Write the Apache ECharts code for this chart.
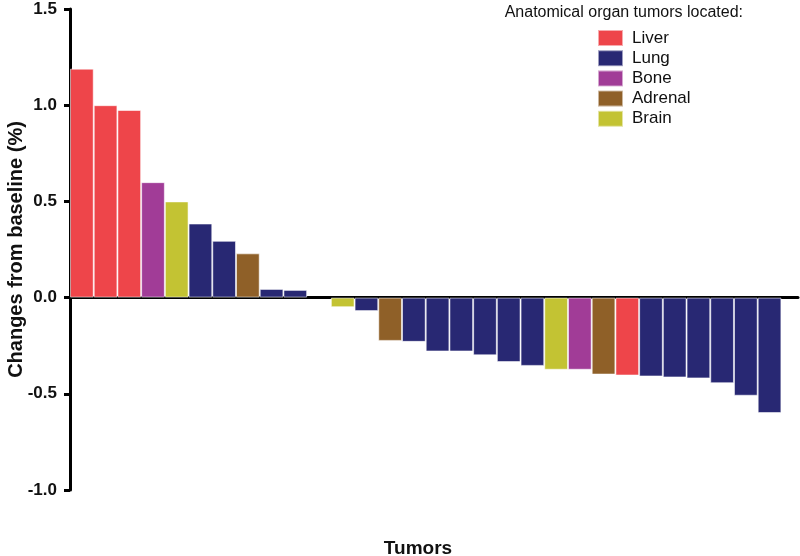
<!DOCTYPE html>
<html><head><meta charset="utf-8">
<script src="https://cdn.jsdelivr.net/npm/echarts@6/dist/echarts.min.js"></script>
<style>html,body{margin:0;padding:0;background:#fff}#c{width:800px;height:556px}</style>
</head><body><div id="c"></div>
<script>
const organNames = ['Liver','Lung','Bone','Adrenal','Brain'];
const organColors = ['#EE454A','#282873','#A13C97','#8F6028','#C3C333'];
const tumorOrgans = ['Liver','Liver','Liver','Bone','Brain','Lung','Lung','Adrenal','Lung','Lung',null,
  'Brain','Lung','Adrenal','Lung','Lung','Lung','Lung','Lung','Lung',
  'Brain','Bone','Adrenal','Liver','Lung','Lung','Lung','Lung','Lung','Lung'];
const changes = [1.19,1.0,0.975,0.60,0.50,0.385,0.295,0.23,0.045,0.04,null,
  -0.05,-0.07,-0.225,-0.23,-0.28,-0.28,-0.30,-0.335,-0.355,
  -0.375,-0.375,-0.40,-0.405,-0.41,-0.415,-0.42,-0.445,-0.51,-0.60];
const yTicks = [-1.0,-0.5,0.0,0.5,1.0,1.5];

const chart = echarts.init(document.getElementById('c'));
const series = organNames.map((name,k)=>({
  name, type:'bar', stack:'all', barWidth:23.7,
  itemStyle:{color:organColors[k], borderColor:'rgba(255,255,255,0.55)', borderWidth:1},
  data: changes.map((v,i)=> tumorOrgans[i]===name ? [i+0.5, v] : [i+0.5, null])
}));
chart.setOption({
  animation:false,
  backgroundColor:'#fff',
  title:[
    {text:'Anatomical organ tumors located:', right:52, top:0, textStyle:{fontFamily:'Liberation Sans', fontSize:16, fontWeight:'normal', color:'#111'}},
    {text:'Tumors', left:413, top:534, textAlign:'center', textStyle:{fontFamily:'Liberation Sans', fontSize:19, fontWeight:'bold', color:'#111'}}
  ],
  legend:{orient:'vertical', left:597, top:29, padding:0, icon:'rect', itemWidth:25, itemHeight:16, itemGap:2.2,
    data:organNames, selectedMode:false,
    textStyle:{fontFamily:'Liberation Sans', fontSize:17, color:'#111', padding:[0,0,0,4]}},
  grid:{left:70, right:2, top:9, bottom:66, outerBoundsMode:'none', containLabel:false},
  xAxis:{type:'value', min:0, max:30.7, axisLine:{onZero:true, lineStyle:{color:'#000', width:3}},
    axisTick:{show:false}, axisLabel:{show:false}, splitLine:{show:false}},
  yAxis:{type:'value', min:yTicks[0], max:yTicks[yTicks.length-1], interval:0.5,
    name:'Changes from baseline (%)', nameLocation:'middle', nameGap:44, nameRotate:90, nameMoveOverlap:false,
    nameTextStyle:{fontFamily:'Liberation Sans', fontSize:20, fontWeight:'bold', color:'#111'},
    axisLine:{show:true, lineStyle:{color:'#000', width:3}},
    axisTick:{show:true, length:6, lineStyle:{color:'#000', width:3}},
    axisLabel:{fontFamily:'Liberation Sans', fontSize:17, fontWeight:'bold', color:'#111', margin:13,
      formatter:v=>v.toFixed(1)},
    splitLine:{show:false}},
  series
});
</script></body></html>
